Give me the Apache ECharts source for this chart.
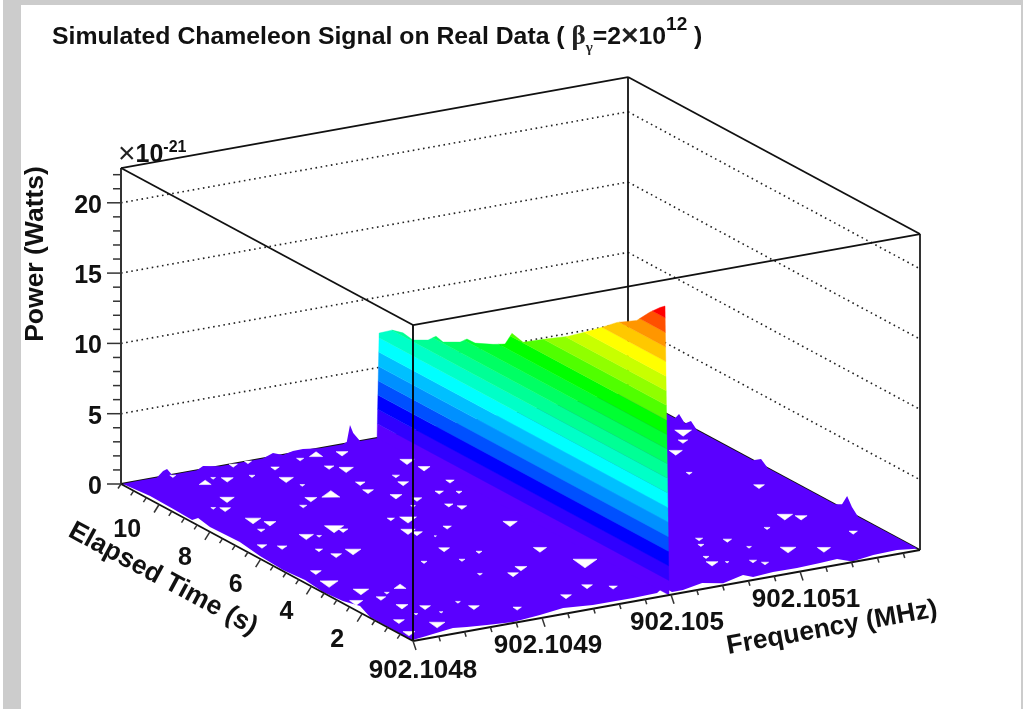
<!DOCTYPE html>
<html><head><meta charset="utf-8">
<style>html,body{margin:0;padding:0;background:#fff}#c{width:1023px;height:709px;filter:blur(0.35px)}</style>
<script src="https://cdn.jsdelivr.net/npm/echarts@6/dist/echarts.min.js"></script>
</head><body><div id="c"></div>
<script>
// ---- axes (frequency as Hz above 902.1048 MHz, time in s, power in 1e-21 W)
const freqSpan = 393, timeSpan = 11.5, powerSpan = 22.47;
const freqMajor = [0, 100, 200, 300];
const freqLabels = ['902.1048', '902.1049', '902.105', '902.1051'];
const timeMajor = [2, 4, 6, 8, 10];
const timeLabels = ['2', '4', '6', '8', '10'];
const powerMajor = [0, 5, 10, 15, 20];
const powerLabels = ['0', '5', '10', '15', '20'];

// ---- signal wall: one frequency bin, power against elapsed time
const ridgeFreq = 198.5;
const wallTimes = [0.16, 0.36, 0.75, 1.27, 2.05, 2.63, 3.23, 4.01, 4.81, 5.75, 6.19, 6.46, 6.93, 7.64, 7.96, 8.23, 8.90, 9.18, 9.49, 10.09, 10.48, 10.91, 11.42];
const wallPower = [20.4, 20.1, 19.4, 18.3, 17.4, 16.5, 15.6, 14.5, 13.55, 12.4, 12.6, 11.58, 11.1, 10.5, 10.48, 10.0, 9.35, 9.5, 8.92, 8.34, 8.47, 8.25, 7.54];

// ---- contour levels
const levelStep = 1.03;
const levelColors = ['#5a00ff', '#3000ff', '#0000ff', '#0050ff', '#0090ff', '#00c0ff', '#00ffff', '#00ffc8', '#00ff96', '#00ff64', '#00ff32', '#00ff00', '#50ff00', '#90ff00', '#c8ff00', '#ffff00', '#ffc800', '#ff9600', '#ff5000', '#ff0000'];

// ---- noise floor outline: back edge (t = max), right edge (f = max), ragged front edges
const backEdgeFreq = [1.6, 14.7, 27.9, 32.6, 35.7, 39.5, 58.9, 63.6, 76.7, 110, 117.8, 125.6, 133.3, 141, 154, 172, 175, 177.5, 180, 185.3, 196.9, 393];
const backEdgePower = [0, 0, 0, 0.39, 0.48, 0, 0, 0.23, 0, 0, 0.26, 0, 0.15, 0.16, 0, 0, 0.1, 1.27, 0.66, 0, 0, 0];
const rightEdgeTime = [9.92, 9.65, 9.49, 9.26, 9.02, 8.78, 6.58, 6.26, 5.99, 3.35, 3.07, 2.87, 2.68, 2.44, 0.12];
const rightEdgePower = [0, 0, 0.45, 0, 0.42, 0, 0, 0.39, 0, 0, 0.28, 1.05, 0.46, 0, 0];
const frontEdgeFreq = [392, 379.7, 360.3, 341.1, 335, 320.8, 302, 283.8, 266.8, 263.1, 242.8, 230.6, 212, 203.5, 203.7, 193.7, 174.3, 143.5, 122.9, 101.9, 78.6, 60.3, 46.5, 37.3, 10.1, 0];
const frontEdgeTime = [0.1, 0.23, 0.18, 0.03, 0.32, 0.27, 0.22, 0.24, 0.16, 0.37, 0.12, 0.33, 0.14, 0.14, 0.49, 0.23, 0.19, 0.21, 0.33, 0.18, 0.05, 0.15, 0.24, 0.32, 0.12, 0.05];
const leftEdgeFreq = [0.7, 0.9, 7, 2.5, 0.7, 3.1, 1.2, 3, 6.5, 5.2, 8, 2.4, 3.3, 3.9, 1.2];
const leftEdgeTime = [0.94, 1.74, 2.44, 2.89, 3.58, 4.41, 5.18, 6.18, 7.15, 8.26, 8.87, 8.82, 9.54, 10.55, 11.48];

// ---- cells that fall below the axis minimum (white gaps in the floor)
const gapFreq = [85.6,106.8,84.8,131,144.7,161.9,139.3,147,101.3,104.1,94.2,110.1,82,140,136,146.8,168.4,165,191,193.4,155.8,145.9,119,129,116,119,37.8,44.4,31.7,51.3,58.9,76.2,79.3,15,25.5,43.8,48.3,62.4,91.8,18.2,13.9,23.8,27.9,36.8,50.8,9.1,31.4,43.8,30.9,49.9,60,67,97.6,38.8,45.4,27.6,33.5,176.2,187.8,194.4,167.9,173.3,143,126.3,117.4,183.9,173.2,134.6,116.1,185.3,141.7,130.5,111.3,160.5,174.6,137.5,13.5,6.3,47.6,68.3,72.2,96.1,32.3,382.8,373,357,342,368.6,351,359.5,327.8,373.5,276.5,271,291.7,296.9,317.3,338.2,261,258,267.9,284,288.8];
const gapTime = [11.43,10.86,10.65,11.1,11.17,11.02,10.38,10.1,10.14,9.65,8.81,8.83,8.49,9.19,8.68,8.13,9.23,8.77,9.94,9.39,7.76,7.41,6.92,6.75,6.09,5.89,8.22,7.89,7.59,6.81,6.69,6.98,6.78,6.71,6.45,5.93,5.48,5.53,4.23,4.75,4.01,3.26,2.68,2.9,3.09,2.7,2.03,1.75,1.45,10.72,10.92,10.72,11.46,11.43,9.63,9.27,9.1,7.92,7.73,8.42,7.12,6.88,5.92,5.54,4.74,5.52,3.8,4.24,3.97,2.64,2.95,2.69,3.02,1.3,0.99,0.96,1.24,0.48,1.31,1.7,1.27,0.78,0.69,8.81,8.32,7.79,6.5,5.1,3.19,2.98,2.71,1.64,2.78,2.43,2.44,1.85,1.35,1,1.72,1.33,1.24,1.04,0.81];
const gapSize = [0.7,0.7,0.5,0.6,-1.1,1,0.8,1.2,1.2,0.4,1,-1.5,0.6,0.8,0.9,1,0.6,0.9,1.2,1,0.8,0.4,0.6,1.4,1.2,0.9,1.3,1,0.6,1.2,0.4,1.6,0.8,0.8,0.8,0.6,0.9,1.3,0.5,0.9,1.5,1.3,0.8,0.4,-1,1.1,1,0.9,0.3,-1,0.4,1,0.6,0.5,1.2,0.4,0.9,0.7,0.5,0.7,0.7,0.8,0.7,0.2,0.9,1.2,1.1,0.5,0.5,2,1,0.9,0.4,0.9,0.7,0.9,0.9,1,0.3,0.4,0.9,0.7,1.3,1.4,0.8,1.1,0.5,0.9,1.3,1,0.5,0.7,0.6,0.5,0.7,0.4,1.3,1.1,0.5,1,0.3,0.6,0.6];
const gapScale = 1.2;

// ---- oblique view of the box, expressed on the page's two hidden value axes
const view = { x0: 413, y0: 641, fx: 507, fy: -91, tx: -292, ty: -157, pz: 14.06 };
function project(f, t, z) {
  const F = f / freqSpan, T = t / timeSpan;
  return [view.x0 + view.fx * F + view.tx * T, view.y0 + view.fy * F + view.ty * T - view.pz * z];
}
function clipBand(poly, lo, hi) {
  const cut = (pts, keep, level) => {
    const out = [];
    pts.forEach((p, i) => {
      const q = pts[(i + 1) % pts.length];
      const a = keep(p[1]), b = keep(q[1]);
      if (a) out.push(p);
      if (a !== b) { const k = (level - p[1]) / (q[1] - p[1]); out.push([p[0] + k * (q[0] - p[0]), level]); }
    });
    return out;
  };
  return cut(cut(poly, v => v >= lo, lo), v => v <= hi, hi);
}
const wallOutline = [[0, 0]].concat(wallTimes.map((t, i) => [t, wallPower[i]]), [[timeSpan, 0]]);
const floorOutline = []
  .concat(backEdgeFreq.map((f, i) => [f, timeSpan, backEdgePower[i]]))
  .concat(rightEdgeTime.map((t, i) => [freqSpan, t, rightEdgePower[i]]))
  .concat(frontEdgeFreq.map((f, i) => [f, frontEdgeTime[i], 0]))
  .concat(leftEdgeFreq.map((f, i) => [f, leftEdgeTime[i], 0]));

// frame segments [start, end]
const solid = { stroke: '#111', lineWidth: 1.8 };
const dotted = { stroke: '#222', lineWidth: 1.6, lineDash: [1.6, 3.6] };
const fM = freqSpan, tM = timeSpan, zM = powerSpan;
const backSegs = [];
powerMajor.slice(1).forEach(z => {
  backSegs.push([[0, tM, z], [fM, tM, z], dotted]);
  backSegs.push([[fM, tM, z], [fM, 0, z], dotted]);
});
backSegs.push([[0, tM, 0], [fM, tM, 0], solid], [[fM, tM, 0], [fM, 0, 0], solid], [[fM, tM, 0], [fM, tM, zM], solid]);
const axisLine = { stroke: '#333', lineWidth: 2 };
const frontSegs = [
  [[0, 0, 0], [0, 0, zM], { stroke: '#000', lineWidth: 1.8 }],
  [[0, tM, 0], [0, tM, zM], axisLine], [[fM, 0, 0], [fM, 0, zM], axisLine],
  [[0, tM, zM], [fM, tM, zM], solid], [[fM, tM, zM], [fM, 0, zM], solid],
  [[fM, 0, zM], [0, 0, zM], solid], [[0, 0, zM], [0, tM, zM], solid],
  [[0, tM, 0], [0, 0, 0], solid], [[0, 0, 0], [fM, 0, 0], solid]
];
// tick marks: point on axis + pixel direction
const ticks = [];
for (let z = 0; z <= 22; z++) ticks.push([[0, tM, z], z % 5 ? [-8, 0] : [-14, 0]]);
for (let t = 0.5; t <= 11.5; t += 0.5) ticks.push([[0, t, 0], t % 2 ? [-3, 4.5] : [-5, 8]]);
for (let f = 0; f <= 380; f += 20) ticks.push([[f, 0, 0], f % 100 ? [1.5, 5] : [3, 9]]);

const font = 'Liberation Sans, Arial, sans-serif';
const labels = [];
freqMajor.forEach((f, i) => labels.push({ at: [f, 0, 0], off: i ? [6, 28] : [10, 30], text: freqLabels[i], align: 'center', size: 26 }));
timeMajor.forEach((t, i) => labels.push({ at: [0, t, 0], off: [-18, 26], text: timeLabels[i], align: 'right', size: 25 }));
powerMajor.forEach((z, i) => labels.push({ at: [0, tM, z], off: [-19, 3], text: powerLabels[i], align: 'right', size: 25 }));
labels.push({ at: [0, 0, 0], off: [0, 0], abs: [36, 254], text: 'Power (Watts)', align: 'center', rotation: Math.PI / 2, size: 26.5 });
labels.push({ at: [0, 0, 0], off: [0, 0], abs: [163, 579], text: 'Elapsed Time (s)', align: 'center', rotation: -Math.atan(157 / 292), size: 26.5 });
labels.push({ at: [0, 0, 0], off: [0, 0], abs: [832, 628], text: 'Frequency (MHz)', align: 'center', rotation: Math.atan(91 / 507), size: 26.5 });

const lineRender = list => (params, api) => {
  const s = list[params.dataIndex];
  const a = api.coord(project(...s[0])), b = api.coord(project(...s[1]));
  return { type: 'line', silent: true, shape: { x1: a[0], y1: a[1], x2: b[0], y2: b[1] }, style: Object.assign({ fill: null }, s[2]) };
};
const idx = list => list.map((_, i) => [i]);
const custom = (name, data, renderItem, z) => ({ type: 'custom', name, data, renderItem, z, silent: true, animation: false, clip: false });

const option = {
  animation: false,
  backgroundColor: '#fff',
  title: {
    left: 52, top: 15, padding: 0,
    text: '{b|Simulated Chameleon Signal on Real Data ( }{g|β}{s|γ}{b|=2}{x|×}{b|10}{u|12}{b| )}',
    textStyle: {
      rich: {
        b: { fontFamily: font, fontWeight: 'bold', fontSize: 24.8, color: '#111', lineHeight: 44 },
        g: { fontFamily: 'Liberation Serif, serif', fontSize: 27, color: '#222', lineHeight: 44 },
        x: { fontFamily: font, fontSize: 30, color: '#222', lineHeight: 44 },
        s: { fontFamily: 'Liberation Serif, serif', fontSize: 15, color: '#222', lineHeight: 44, verticalAlign: 'bottom', padding: [0, 0, 3, 0] },
        u: { fontFamily: font, fontWeight: 'bold', fontSize: 19, color: '#111', lineHeight: 44, verticalAlign: 'top' }
      }
    }
  },
  grid: { left: 0, right: 0, top: 0, bottom: 0, containLabel: false },
  xAxis: { type: 'value', min: 0, max: 1023, show: false },
  yAxis: { type: 'value', min: 0, max: 709, inverse: true, show: false },
  graphic: [
    { type: 'rect', silent: true, shape: { x: 3, y: 0, width: 18, height: 709 }, style: { fill: '#cccccc' } },
    { type: 'rect', silent: true, shape: { x: 3, y: 0, width: 1020, height: 5 }, style: { fill: '#cccccc' } },
    { type: 'rect', silent: true, shape: { x: 1021, y: 0, width: 2, height: 709 }, style: { fill: '#cccccc' } }
  ],
  series: [
    custom('frame back', idx(backSegs), lineRender(backSegs), 1),
    custom('floor', [[0]], (p, api) => ({
      type: 'polygon', silent: true,
      shape: { points: floorOutline.map(q => api.coord(project(...q))) },
      style: { fill: levelColors[0] }
    }), 2),
    custom('signal', idx(levelColors), (p, api) => {
      const i = p.dataIndex;
      const poly = clipBand(wallOutline, i * levelStep, i === levelColors.length - 1 ? 99 : (i + 1) * levelStep);
      return {
        type: 'polygon', silent: true,
        shape: { points: poly.map(q => api.coord(project(ridgeFreq, q[0], q[1]))) },
        style: { fill: levelColors[i], stroke: levelColors[i], lineWidth: 0.4 }
      };
    }, 3),
    custom('gaps', idx(gapFreq), (p, api) => {
      const i = p.dataIndex, s = Math.abs(gapSize[i]) * gapScale, f = gapFreq[i], t = gapTime[i];
      const shape = gapSize[i] > 0
        ? [[-1.6, 0.115], [4.2, 0.017], [-2.6, -0.132]]
        : [[-4.2, -0.017], [1.6, -0.115], [2.6, 0.132]];
      return {
        type: 'polygon', silent: true,
        shape: { points: shape.map(v => api.coord(project(f + v[0] * s, t + v[1] * s, 0))) },
        style: { fill: '#fff', stroke: '#fff', lineWidth: 0.6 }
      };
    }, 4),
    custom('frame front', idx(frontSegs), lineRender(frontSegs), 5),
    custom('ticks', idx(ticks), (p, api) => {
      const tk = ticks[p.dataIndex], a = api.coord(project(...tk[0]));
      return { type: 'line', silent: true, shape: { x1: a[0], y1: a[1], x2: a[0] + tk[1][0], y2: a[1] + tk[1][1] }, style: { stroke: '#333', lineWidth: 1.5 } };
    }, 6),
    custom('labels', idx(labels), (p, api) => {
      const l = labels[p.dataIndex], a = api.coord(project(...l.at));
      const pos = l.abs || [a[0] + l.off[0], a[1] + l.off[1]];
      return {
        type: 'text', silent: true, x: pos[0], y: pos[1], rotation: l.rotation || 0,
        style: { text: l.text, align: l.align, verticalAlign: 'middle', fontFamily: font, fontWeight: 'bold', fontSize: l.size, fill: '#111' }
      };
    }, 7),
    custom('exponent', [[0]], (p, api) => {
      const a = api.coord(project(0, tM, zM));
      return {
        type: 'text', silent: true, x: a[0] - 3, y: a[1] - 13,
        style: {
          text: '{x|×}{b|10}{u|-21}', align: 'left', verticalAlign: 'middle',
          rich: {
            x: { fontFamily: font, fontSize: 30, fill: '#222', lineHeight: 30 },
            b: { fontFamily: font, fontWeight: 'bold', fontSize: 25, fill: '#111', lineHeight: 30 },
            u: { fontFamily: font, fontWeight: 'bold', fontSize: 16, fill: '#111', lineHeight: 30, verticalAlign: 'top' }
          }
        }
      };
    }, 7)
  ]
};
echarts.init(document.getElementById('c')).setOption(option);
</script></body></html>
